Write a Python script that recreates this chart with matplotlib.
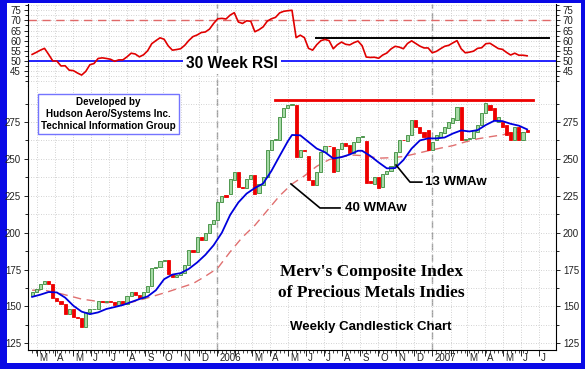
import matplotlib
matplotlib.use("Agg")
import matplotlib.pyplot as plt
import matplotlib.dates as mdates
import matplotlib.transforms as mtransforms
from matplotlib.patches import Rectangle
from matplotlib.ticker import MultipleLocator, FixedLocator, NullFormatter
import numpy as np
import pandas as pd

plt.rcParams['font.family'] = ['Liberation Sans', 'DejaVu Sans']

# weekly candles, first bar week of 21 Feb 2005
weeks = pd.date_range('2005-02-21', periods=121, freq='7D')

opens = [157, 160, 162, 165, 167, 165, 156, 154, 152, 145,
         148, 143, 142, 136, 146, 148, 148.5, 154, 153, 153.5,
         153, 151, 154, 152, 157, 160, 158, 156, 160, 164,
         176, 176.5, 181, 181.5, 172, 170, 171, 173, 178, 188,
         187, 197, 195, 200, 206, 208.5, 221, 225.5, 226, 236,
         241, 231, 230, 236.7, 239, 227, 232, 238, 256, 262.8,
         263, 278.6, 284.3, 286.5, 286.5, 251.5, 256, 252, 236, 232,
         241, 254.5, 259, 258, 242, 257, 260.5, 259.4, 254, 261.6,
         265, 262, 235, 233, 238, 231, 240, 242, 245.5, 255,
         262.8, 262, 266, 276.3, 271.8, 268.4, 269.5, 256, 262.8, 265,
         267.3, 271, 274, 276.3, 285.4, 262.8, 263.5, 264, 268.4, 273,
         281, 286.5, 284.2, 275.2, 275.2, 273, 268.4, 262.8, 271.8, 262.8,
         269.5]
closes = [160, 162, 165, 167, 165, 156, 154, 152, 145, 148,
          143, 142, 136, 146, 148, 148.5, 154, 153, 153.5, 153,
          151, 154, 152, 157, 160, 158, 156, 160, 164, 176,
          176.5, 181, 181.5, 172, 170, 171, 173, 178, 188, 187,
          197, 195, 200, 206, 208.5, 221, 225, 224.5, 236.7, 241,
          231, 230, 236.7, 239, 226.5, 233, 238, 256, 262.8, 263.5,
          278.6, 284.3, 286.5, 287, 251.5, 256, 255.5, 236, 232, 241,
          254.5, 259, 258.5, 241.3, 257, 260.5, 259, 253.7, 261.6, 265,
          265.5, 234, 234, 238, 230.5, 240, 242, 245.5, 254.8, 262.8,
          262.5, 266, 276.3, 271.8, 267.3, 265, 256, 261.6, 266, 268.4,
          271.8, 275, 277.5, 285.4, 262.8, 263.5, 264, 269.5, 273, 281,
          287.6, 283, 276.3, 278.6, 271.8, 266, 262.8, 271.8, 262.8, 268.4,
          268.5]

rsi = [53.2, 54.2, 55.3, 56.2, 53.2, 50, 49.9, 47.5, 47.6, 45.4,
       45.2, 44, 43, 44.8, 48.1, 48.7, 51.2, 51.5, 51.2, 50.8,
       49.8, 50.5, 50.5, 52, 53.8, 53.4, 52, 53, 55, 58.5,
       60, 61.4, 60.7, 57.4, 55.3, 55.6, 56, 57.7, 60.1, 62,
       62.8, 64, 64.3, 65.7, 68.5, 70.8, 71, 70.7, 72.6, 73.8,
       69.2, 68.5, 69.8, 69.6, 64.4, 65.4, 66.8, 69.6, 70.8, 71.5,
       73.7, 74.5, 74.8, 75, 61.5, 62.7, 61.5, 56.2, 55.3, 58,
       60, 60.6, 60, 56, 58, 59.3, 58.2, 57.9, 59, 59.8,
       57.5, 51.9, 51.7, 51.8, 51.3, 52.9, 53.9, 55.9, 57.2, 56.8,
       56, 58.6, 59.9, 58.6, 57.3, 56.4, 56.4, 54, 54.7, 56,
       57.2, 57.7, 58.9, 60, 56, 54, 54.3, 54.8, 56.2, 56.5,
       58.5, 58.7, 57.4, 56.1, 55.7, 54.2, 52.9, 53.8, 52.8, 52.8,
       52.5]

# moving averages at some of the weeks
wma13_wk = [0, 2, 4, 6, 8, 10, 12, 14, 16, 18, 20, 22, 24, 26, 28, 30, 32, 34,
            36, 38, 40, 42, 44, 46, 48, 50, 52, 54, 56, 58, 60, 62, 63, 65, 67,
            69, 71, 73, 75, 77, 79, 80, 82, 84, 86, 88, 90, 92, 94, 96, 98, 100,
            102, 104, 106, 108, 110, 112, 114, 116, 118, 120]
wma13 = [156.5, 158, 159.8, 159.5, 156, 150.5, 146.5, 144.8, 146, 148.3,
         149.6, 151, 153, 155, 156.8, 161, 168.5, 171.6, 172.6, 175.5,
         179.8, 185, 191.5, 200, 212, 220.5, 226.5, 230.3, 233.3, 241.8,
         252, 262, 266.2, 266, 261.5, 257, 254.5, 250.3, 251.2, 253,
         255.5, 255.5, 252, 247.6, 243.6, 243.8, 249.2, 257, 262.5, 263.9,
         263.9, 264.5, 267.2, 269.3, 268.6, 269.5, 273, 275.8, 275.6, 273.8,
         272.5, 270]
wma40_wk = list(range(0, 121, 3))
wma40 = [161, 161, 159.3, 157.2, 155, 153.8, 152.5, 152, 152.8, 155,
         157.5, 160, 162.8, 165.5, 170.5, 176, 187, 197, 205, 215,
         225, 233, 238.5, 245, 249.5, 251.4, 252.6, 252, 250.5, 250.8,
         251.6, 253.5, 255.5, 257.3, 259, 261.5, 263.6, 265, 266.3, 268.3,
         267]

resist_price = 289.9
resist_from, resist_to = '2006-04-09', '2007-06-21'
rsi_level = 61.1
rsi_level_from, rsi_level_to = '2006-06-18', '2007-07-18'

x = mdates.date2num(weeks)
opens = np.array(opens)
closes = np.array(closes)

fig = plt.figure(figsize=(5.85, 3.69), dpi=100, facecolor='#0a0ae6')
fig.patches.append(Rectangle((7/585, 6/369), 574/585, 360/369, transform=fig.transFigure,
                             facecolor='white', edgecolor='none', zorder=-5))

ax_rsi = fig.add_axes([28/585, 283/369, 528/585, 82/369])
ax = fig.add_axes([28/585, 19/369, 528/585, 264/369])

x0 = mdates.date2num(pd.Timestamp('2005-02-14'))
x1 = mdates.date2num(pd.Timestamp('2007-07-30'))
months = pd.date_range('2005-03-01', '2007-07-01', freq='MS')
mnum = mdates.date2num(months)
grid_kw = dict(color='#c4c4c4', lw=0.6, linestyle=(0, (1, 2)))

for a in (ax_rsi, ax):
    a.set_xlim(x0, x1)
    a.xaxis.set_major_locator(FixedLocator(mnum))
    a.xaxis.set_minor_locator(FixedLocator(x))
    a.xaxis.set_major_formatter(NullFormatter())
    a.grid(True, which='major', **grid_kw)
    a.grid(True, which='minor', axis='y', **grid_kw)
    a.tick_params(axis='y', which='both', left=True, right=True, labelleft=True, labelright=True,
                  labelsize=7, labelcolor='#222222', length=3, width=0.6, pad=2)
    a.tick_params(axis='y', which='minor', length=2)
    a.spines['top'].set_visible(False)
    for s in ('left', 'right', 'bottom'):
        a.spines[s].set_linewidth(0.8)
    for yr in ('2006-01-01', '2007-01-01'):
        a.axvline(mdates.date2num(pd.Timestamp(yr)), color='#9c9c9c', lw=1, dashes=(5, 3), zorder=1)

# RSI panel
ax_rsi.set_ylim(37.6, 78.1)
ax_rsi.yaxis.set_major_locator(FixedLocator([45, 50, 55, 60, 65, 70, 75]))
ax_rsi.yaxis.set_minor_locator(FixedLocator([40, 42.5, 47.5, 52.5, 57.5, 62.5, 67.5, 72.5, 77.5]))
ax_rsi.spines['bottom'].set_visible(False)
ax_rsi.tick_params(axis='x', which='both', bottom=False)
ax_rsi.axhline(70, color='#e06868', lw=1, dashes=(6, 4), zorder=2)
ax_rsi.axhline(50, color='#0000ff', lw=1.2, zorder=2)
ax_rsi.plot(mdates.date2num(pd.to_datetime([rsi_level_from, rsi_level_to])), [rsi_level, rsi_level],
            color='black', lw=1.4, zorder=3)
ax_rsi.plot(x, rsi, color='#e00000', lw=1.2, zorder=4)
ax_rsi.text(0.387, 0.274, '30 Week RSI', transform=ax_rsi.transAxes, ha='center', va='center',
            fontsize=11.2, fontweight='bold', zorder=5,
            bbox=dict(boxstyle='square,pad=0.2', fc='white', ec='none'))

# price panel
ax.set_ylim(120.5, 299.4)
ax.yaxis.set_major_locator(MultipleLocator(25))
ax.yaxis.set_minor_locator(MultipleLocator(12.5))
ax.tick_params(axis='x', which='major', direction='out', length=4, width=0.6)
ax.tick_params(axis='x', which='minor', direction='out', length=2.5, width=0.5)

up = closes >= opens
face = np.where(up, '#a6daa6', '#ee0000')
edge = np.where(up, '#3a8a3a', '#ee0000')
ax.bar(x, closes - opens, bottom=opens, width=5.4, color=face, edgecolor=edge, lw=0.6, zorder=4)

ax.plot(x[wma40_wk], wma40, color='#e07070', lw=1, dashes=(6, 4), zorder=3)
ax.plot(x[wma13_wk], wma13, color='#0000dd', lw=1.3, zorder=5)
ax.plot(mdates.date2num(pd.to_datetime([resist_from, resist_to])), [resist_price, resist_price],
        color='#ee0000', lw=2, zorder=5)

ax.text(0.1525, 0.894, 'Developed by\nHudson Aero/Systems Inc.\nTechnical Information Group',
        transform=ax.transAxes, ha='center', va='center', fontsize=7.1, fontweight='bold',
        linespacing=1.25, zorder=6,
        bbox=dict(boxstyle='square,pad=0.35', fc='white', ec='#7474ff', lw=1))

ax.plot([0.697, 0.7235, 0.746], [0.7008, 0.636, 0.636], transform=ax.transAxes, color='black', lw=1.2, zorder=6)
ax.text(0.752, 0.636, '13 WMAw', transform=ax.transAxes, ha='left', va='center',
        fontsize=9.5, fontweight='bold', zorder=6)
ax.plot([0.498, 0.553, 0.591], [0.629, 0.538, 0.538], transform=ax.transAxes, color='black', lw=1.2, zorder=6)
ax.text(0.600, 0.538, '40 WMAw', transform=ax.transAxes, ha='left', va='center',
        fontsize=9.5, fontweight='bold', zorder=6)

ax.text(0.65, 0.295, "Merv's Composite Index", transform=ax.transAxes, ha='center', va='center',
        fontsize=12.5, fontweight='bold', family=['Liberation Serif', 'DejaVu Serif'])
ax.text(0.65, 0.216, 'of Precious Metals Indies', transform=ax.transAxes, ha='center', va='center',
        fontsize=12.5, fontweight='bold', family=['Liberation Serif', 'DejaVu Serif'])
ax.text(0.65, 0.087, 'Weekly Candlestick Chart', transform=ax.transAxes, ha='center', va='center',
        fontsize=9.5, fontweight='bold')

# month letters along the bottom, years at January
lab_tr = mtransforms.blended_transform_factory(ax.transData, ax.transAxes) + \
    mtransforms.ScaledTranslation(2 / 100, 0, fig.dpi_scale_trans)
for m, mx in zip(months, mnum):
    if m.month == 1:
        lab = str(m.year)
    elif m.month == 2:
        lab = ''
    else:
        lab = m.strftime('%b')[0]
    ax.text(mx, -0.01, lab, transform=lab_tr, ha='left', va='top', fontsize=7, color='#222222')

fig.savefig('out.png', dpi=100, facecolor=fig.get_facecolor())
